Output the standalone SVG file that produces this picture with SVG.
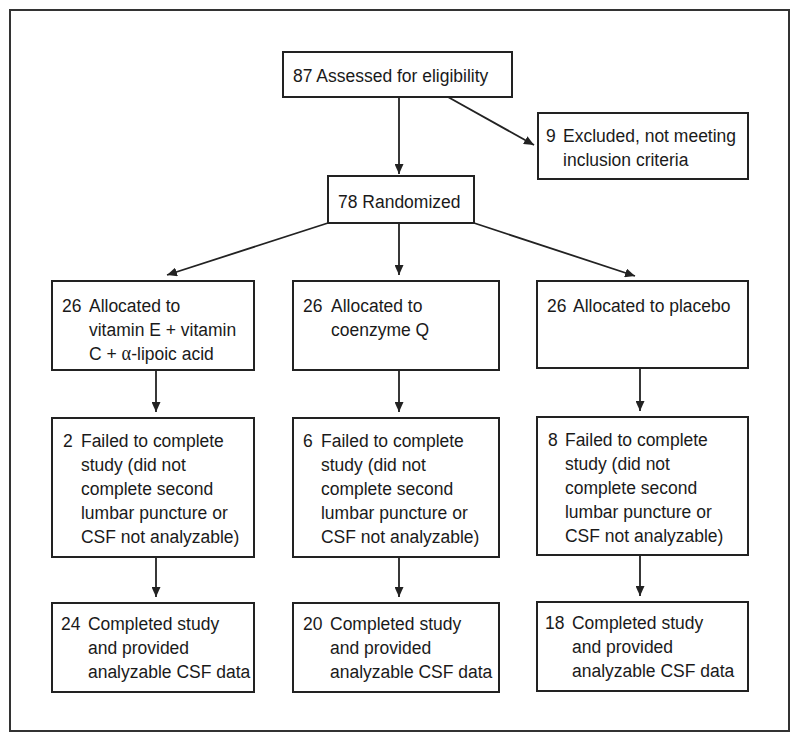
<svg xmlns="http://www.w3.org/2000/svg" width="800" height="742" viewBox="0 0 800 742">
<style>
.box{fill:#fff;stroke:#222;stroke-width:2}
.frame{fill:#fff;stroke:#333;stroke-width:2}
text{font-family:"Liberation Sans",Arial,sans-serif;font-size:19px;fill:#1a1a1a}
.con{stroke:#222;stroke-width:1.8;fill:none;marker-end:url(#ah)}
.greek{font-family:"Liberation Serif","DejaVu Serif",serif;font-size:20px}
</style>
<defs>
<marker id="ah" markerUnits="userSpaceOnUse" markerWidth="10" markerHeight="9" refX="10" refY="4.5" orient="auto">
<path d="M0,0 L10,4.5 L0,9 z" fill="#222"/>
</marker>
</defs>
<rect class="frame" x="10" y="10" width="779" height="721"/>

<g id="connectors">
<path class="con" d="M399,97 L399,174"/>
<path class="con" d="M448,97 L534,145"/>
<path class="con" d="M328,223 L167,275"/>
<path class="con" d="M399,223 L399,275"/>
<path class="con" d="M474,223 L635,276"/>
<path class="con" d="M156,370 L156,412"/>
<path class="con" d="M399,370 L399,412"/>
<path class="con" d="M640,368 L640,411"/>
<path class="con" d="M156,557 L156,597"/>
<path class="con" d="M399,557 L399,597"/>
<path class="con" d="M640,555 L640,596"/>
</g>

<g id="assessed">
<rect class="box" x="283" y="52" width="229" height="45"/>
<g transform="scale(0.92105 1)">
<text x="318.1" y="82">87 Assessed for eligibility</text>
</g>
</g>

<g id="excluded">
<rect class="box" x="538" y="113" width="210" height="66"/>
<g transform="scale(0.92105 1)">
<text x="592.8" y="142">9</text>
<text x="611.3" y="142">Excluded, not meeting</text>
<text x="611.3" y="166">inclusion criteria</text>
</g>
</g>

<g id="randomized">
<rect class="box" x="328" y="176" width="146" height="47"/>
<g transform="scale(0.92105 1)">
<text x="367" y="208">78 Randomized</text>
</g>
</g>

<g id="alloc-vit">
<rect class="box" x="52" y="281" width="202" height="89"/>
<g transform="scale(0.92105 1)">
<text x="67.3" y="312">26</text>
<text x="96.6" y="312">Allocated to</text>
<text x="96.6" y="336">vitamin E + vitamin</text>
<text x="96.6" y="360">C + <tspan class="greek">α</tspan>-lipoic acid</text>
</g>
</g>

<g id="alloc-coq">
<rect class="box" x="293" y="281" width="206" height="89"/>
<g transform="scale(0.92105 1)">
<text x="329" y="312">26</text>
<text x="359.4" y="312">Allocated to</text>
<text x="359.4" y="336">coenzyme Q</text>
</g>
</g>

<g id="alloc-placebo">
<rect class="box" x="537" y="281" width="211" height="87"/>
<g transform="scale(0.92105 1)">
<text x="593.9" y="312">26</text>
<text x="622.1" y="312">Allocated to placebo</text>
</g>
</g>

<g id="failed-vit">
<rect class="box" x="52" y="418" width="202" height="139"/>
<g transform="scale(0.92105 1)">
<text x="68.4" y="447">2</text>
<text x="87.9" y="447">Failed to complete</text>
<text x="87.9" y="471">study (did not</text>
<text x="87.9" y="495">complete second</text>
<text x="87.9" y="519">lumbar puncture or</text>
<text x="87.9" y="543">CSF not analyzable)</text>
</g>
</g>

<g id="failed-coq">
<rect class="box" x="293" y="418" width="206" height="139"/>
<g transform="scale(0.92105 1)">
<text x="329" y="447">6</text>
<text x="348.5" y="447">Failed to complete</text>
<text x="348.5" y="471">study (did not</text>
<text x="348.5" y="495">complete second</text>
<text x="348.5" y="519">lumbar puncture or</text>
<text x="348.5" y="543">CSF not analyzable)</text>
</g>
</g>

<g id="failed-placebo">
<rect class="box" x="537" y="417" width="211" height="138"/>
<g transform="scale(0.92105 1)">
<text x="595" y="446">8</text>
<text x="613.4" y="446">Failed to complete</text>
<text x="613.4" y="470">study (did not</text>
<text x="613.4" y="494">complete second</text>
<text x="613.4" y="518">lumbar puncture or</text>
<text x="613.4" y="542">CSF not analyzable)</text>
</g>
</g>

<g id="completed-vit">
<rect class="box" x="52" y="603" width="202" height="89"/>
<g transform="scale(0.92105 1)">
<text x="66.2" y="630">24</text>
<text x="95.5" y="630">Completed study</text>
<text x="95.5" y="654">and provided</text>
<text x="95.5" y="678">analyzable CSF data</text>
</g>
</g>

<g id="completed-coq">
<rect class="box" x="293" y="603" width="206" height="89"/>
<g transform="scale(0.92105 1)">
<text x="329" y="630">20</text>
<text x="358.3" y="630">Completed study</text>
<text x="358.3" y="654">and provided</text>
<text x="358.3" y="678">analyzable CSF data</text>
</g>
</g>

<g id="completed-placebo">
<rect class="box" x="537" y="602" width="211" height="89"/>
<g transform="scale(0.92105 1)">
<text x="591.7" y="629">18</text>
<text x="621" y="629">Completed study</text>
<text x="621" y="653">and provided</text>
<text x="621" y="677">analyzable CSF data</text>
</g>
</g>
</svg>
